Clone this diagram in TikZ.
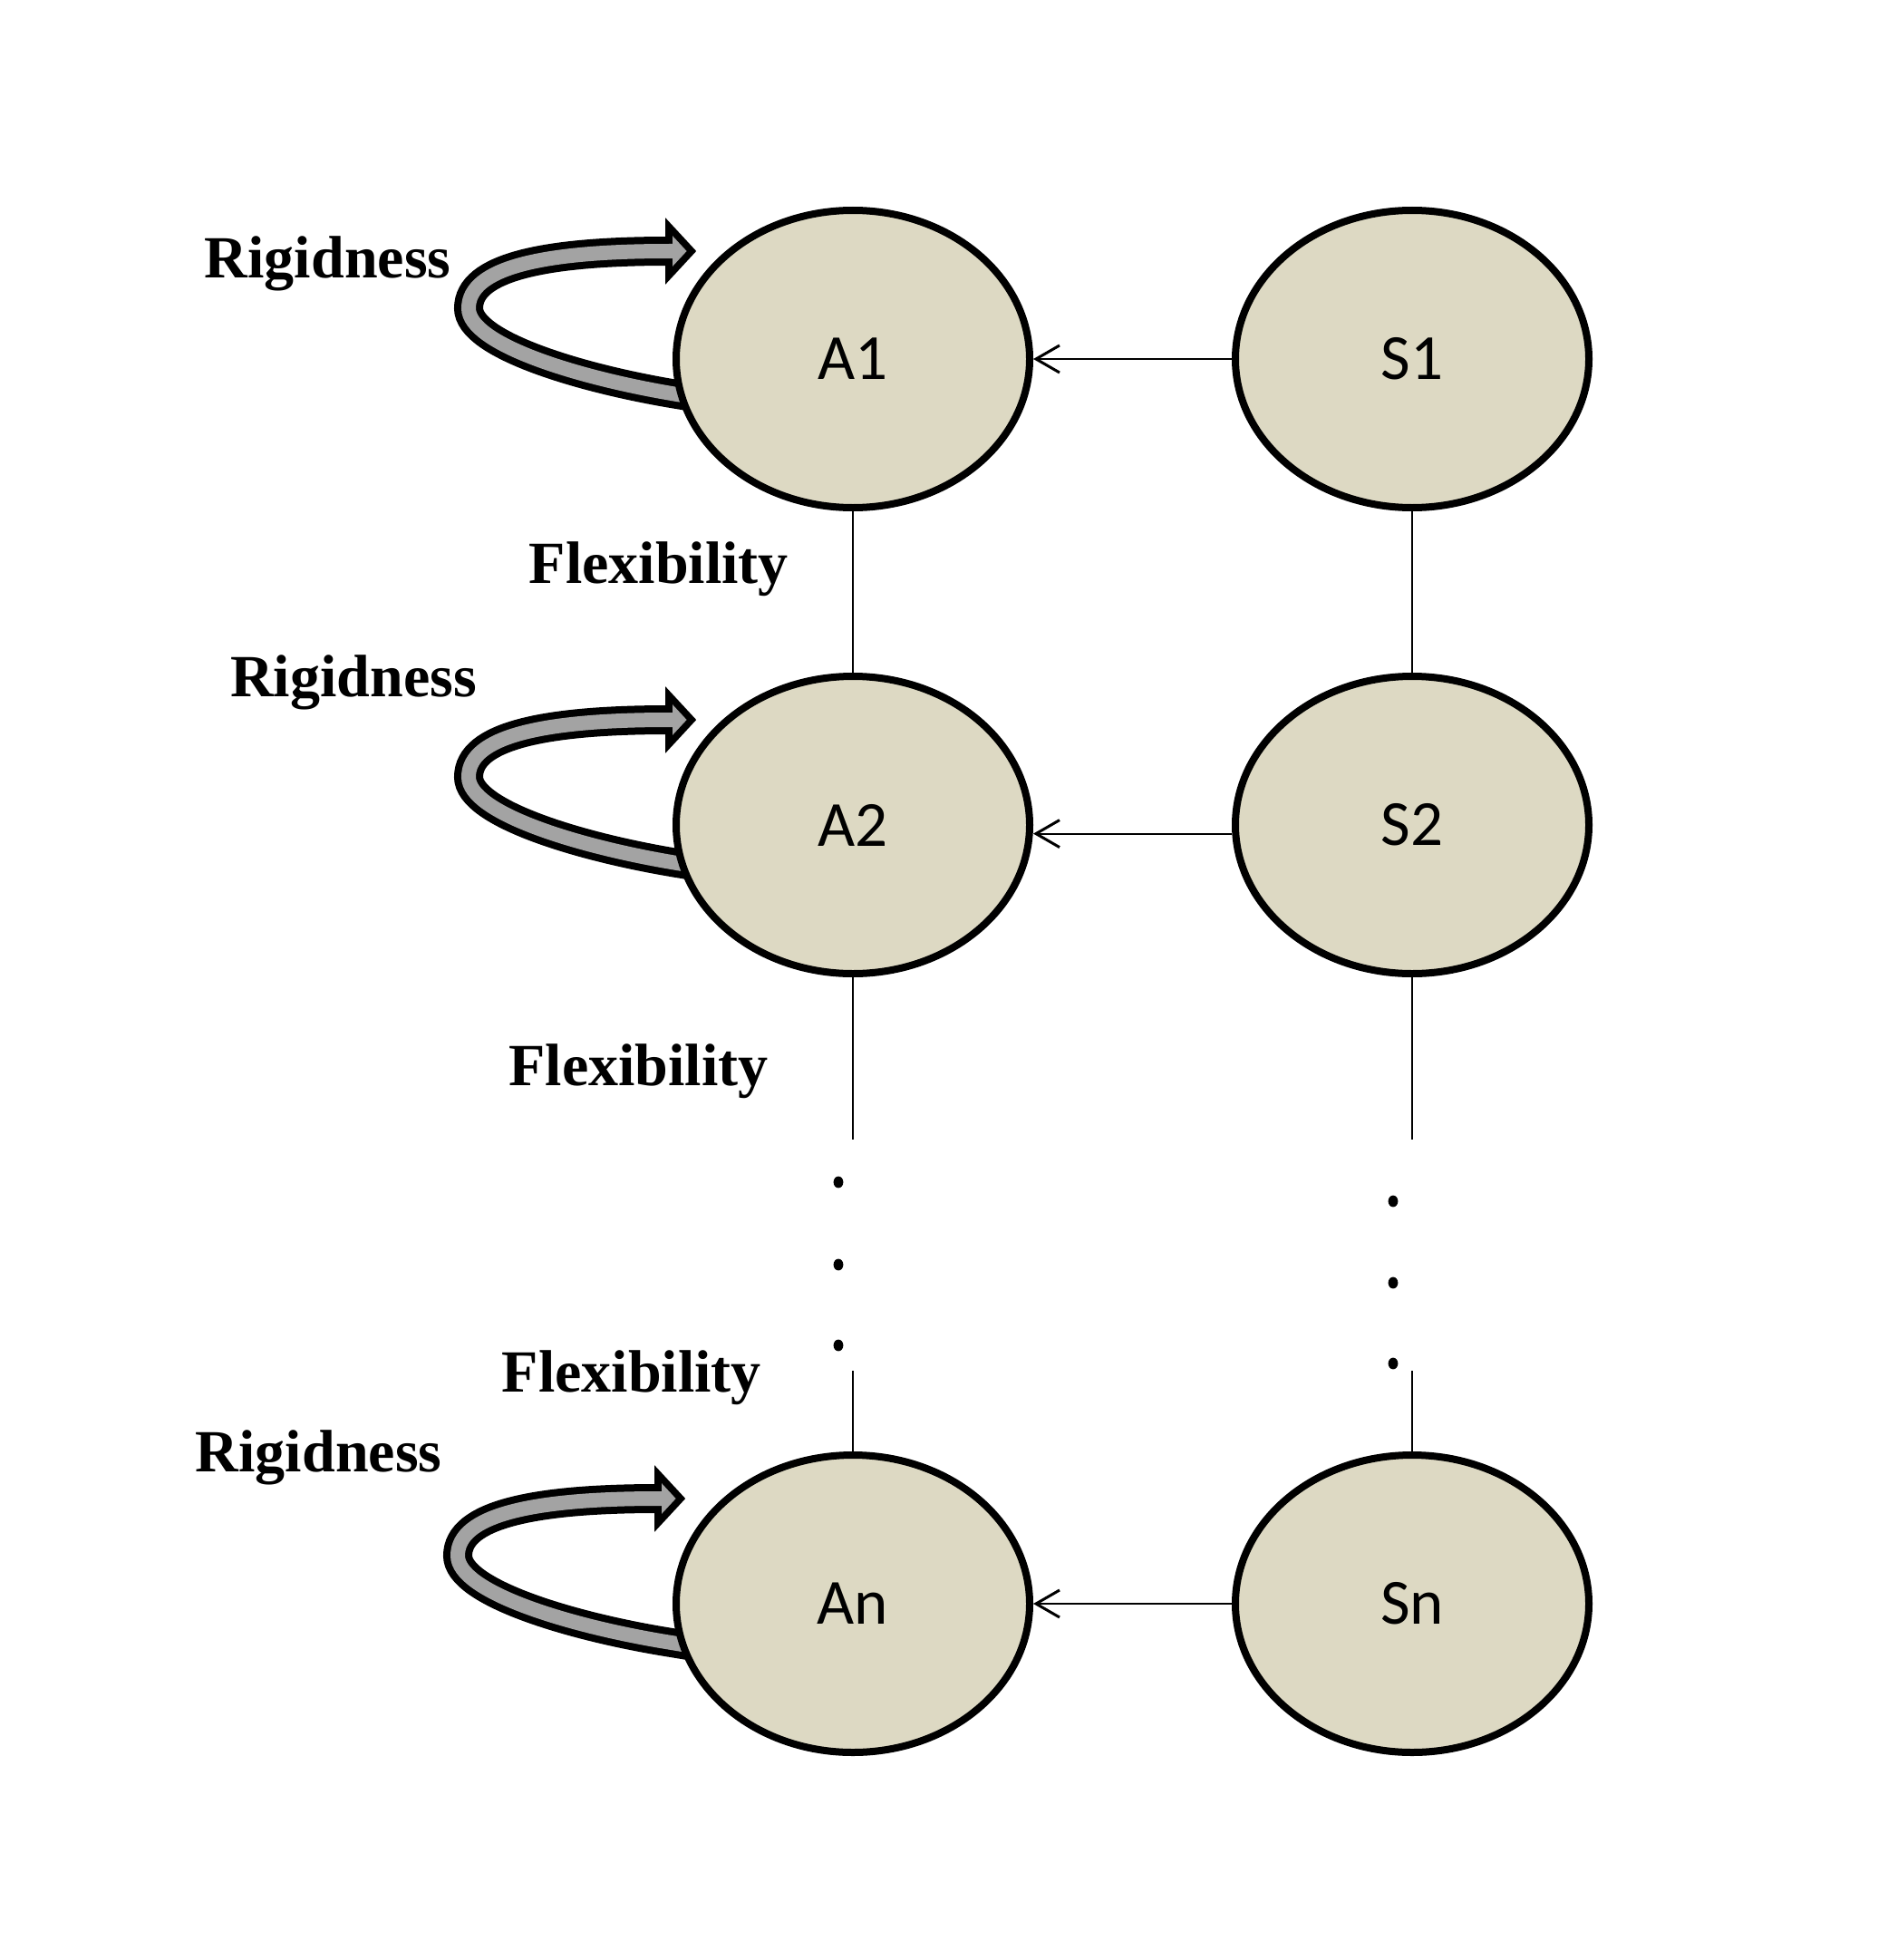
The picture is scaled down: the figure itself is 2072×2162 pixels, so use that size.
\documentclass[tikz,border=0pt]{standalone}
\usepackage{fontspec}
\newfontfamily\nodefont{Carlito}
\newfontfamily\labfont{Liberation Serif}
\usetikzlibrary{shapes.geometric,arrows.meta}
\definecolor{tanfill}{HTML}{DDD9C3}
\definecolor{arrgray}{HTML}{A3A3A3}
\tikzset{
  loop arrow/.pic={
    \draw[line width=8pt, black] (-158,45) -- (-188,40) .. controls (-301,22) and (-424,-16) .. (-424,-56) .. controls (-424,-101) and (-341,-119) .. (-203,-119);
    \draw[line width=1.9pt, fill=arrgray, line join=miter] (-203,-146) -- (-178,-119) -- (-203,-92) -- cycle;
    \draw[line width=4pt, arrgray] (-158,45) -- (-188,40) .. controls (-301,22) and (-424,-16) .. (-424,-56) .. controls (-424,-101) and (-341,-119) .. (-203,-119) -- (-196,-119);
  }
}
\begin{document}
\begin{tikzpicture}[x=0.25pt,y=-0.25pt,
  state/.style={ellipse, draw=black, line width=2pt, fill=tanfill, minimum width=97.5pt, minimum height=82pt, inner sep=0pt, font=\nodefont\fontsize{17.75pt}{20pt}\selectfont},
  lab/.style={anchor=base, inner sep=0pt, font=\labfont\bfseries\fontsize{16.5pt}{18pt}\selectfont},
  conn/.style={line width=0.5pt},
  feed/.style={conn, -{Straight Barb[length=6.5pt,width=7.5pt,line width=0.75pt]}},
  dot/.style={fill=black}
]
\fill[white] (0,0) rectangle (2072,2162);
\useasboundingbox (0,0) rectangle (2072,2162);

% self-loop arrows (drawn first, ellipses cover their tails)
\pic at (941,396) {loop arrow};
\pic at (941,913) {loop arrow};
\pic at (929,1772) {loop arrow};

% states
\node[state] (A1) at (941,396) {A1};
\node[state] (S1) at (1558,396) {S1};
\node[state] (A2) at (941,910) {A2};
\node[state] (S2) at (1558,910) {S2};
\node[state] (An) at (941,1769) {An};
\node[state] (Sn) at (1558,1769) {Sn};

% labels
\node[lab] (r1) at (361.7,306.7) {Rigidness};
\node[lab] (f1) at (726.7,643.3) {Flexibility};
\node[lab] (r2) at (390,768) {Rigidness};
\node[lab] (f2) at (704.5,1197.5) {Flexibility};
\node[lab] (f3) at (696.7,1535) {Flexibility};
\node[lab] (r3) at (351.7,1623.3) {Rigidness};

% horizontal connectors
\draw[feed] (S1) -- (A1);
\draw[feed] ([yshift=-2.4pt]S2.west) -- ([yshift=-2.4pt]A2.east);
\draw[feed] (Sn) -- (An);

% vertical connectors
\coordinate (a2b) at (941,1257);
\coordinate (anT) at (941,1512);
\coordinate (s2b) at (1558,1257);
\coordinate (snT) at (1558,1512);
\draw[conn] (A1) -- (A2);
\draw[conn] (S1) -- (S2);
\draw[conn] (A2) -- (a2b);
\draw[conn] (anT) -- (An);
\draw[conn] (S2) -- (s2b);
\draw[conn] (snT) -- (Sn);

% ellipsis dots
\foreach \y in {1304,1395,1484} \fill[dot] (925,\y) ellipse [x radius=1.35pt, y radius=1.6pt];
\foreach \y in {1325,1415,1504} \fill[dot] (1537,\y) ellipse [x radius=1.35pt, y radius=1.6pt];
\end{tikzpicture}
\end{document}
